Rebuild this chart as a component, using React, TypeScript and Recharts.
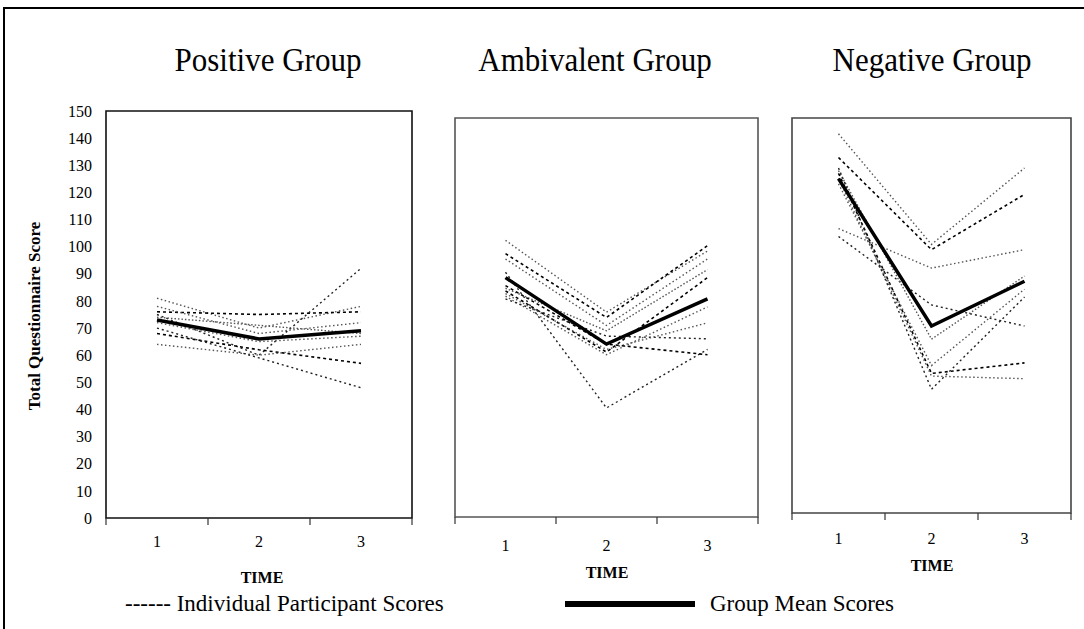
import { LineChart, Line, XAxis, YAxis, ReferenceArea } from "recharts";

const times = [1, 2, 3];
const yTicks = [0, 10, 20, 30, 40, 50, 60, 70, 80, 90, 100, 110, 120, 130, 140, 150];
const xTicks = [0.5, 1, 1.5, 2, 2.5, 3, 3.5];

const positiveMean = [73, 66, 69];
const positiveScores = [
  [81, 70, 78],
  [76, 75, 76],
  [78, 68, 72],
  [75, 60, 92],
  [74, 71, 68],
  [68, 62, 57],
  [64, 60, 64],
  [70, 59, 48],
  [72, 65, 67],
];

const ambivalentMean = [90, 65, 82];
const ambivalentScores = [
  [104, 77, 100],
  [99, 75, 102],
  [97, 72, 97],
  [92, 41, 63],
  [86, 70, 93],
  [85, 62, 90],
  [83, 61, 79],
  [82, 68, 67],
  [84, 63, 73],
  [87, 65, 61],
];

const negativeMean = [127, 71, 88];
const negativeScores = [
  [144, 102, 131],
  [135, 100, 121],
  [108, 93, 100],
  [105, 79, 71],
  [130, 66, 90],
  [129, 53, 57],
  [127, 52, 51],
  [131, 47, 82],
  [125, 56, 85],
];

const FONT = "'Liberation Serif', serif";
// alternate fine grey dots with heavier black dashes, like the scanned figure
const DASHES = ["1.5 2.5", "3 3", "1.5 2.5", "2 3", "1.5 2", "3 3", "1.5 2.5", "2 3", "1.5 2.5", "3 3"];
const STROKES = ["#555", "#000", "#555", "#222", "#555", "#000", "#555", "#222", "#555", "#000"];
const WIDTHS = [1.4, 1.6, 1.4, 1.4, 1.4, 1.6, 1.4, 1.4, 1.4, 1.6];

const buildRows = (mean: number[], scores: number[][]) =>
  times.map((t, i) => {
    const row: Record<string, number> = { time: t, mean: mean[i] };
    scores.forEach((s, j) => {
      row[`p${j}`] = s[i];
    });
    return row;
  });

const makeTick = (labelDy: number) => (props: any) => {
  const { x, y, payload } = props;
  const v = payload.value;
  if (Number.isInteger(v)) {
    return (
      <text x={x} y={y + labelDy} textAnchor="middle" dominantBaseline="central"
        fontSize={16} fontFamily={FONT} fill="#000">
        {v}
      </text>
    );
  }
  return <line x1={x} x2={x} y1={y} y2={y + 7} stroke="#333" strokeWidth={1.2} />;
};

type PanelProps = {
  mean: number[];
  scores: number[][];
  plotLeft: number;
  plotRight: number;
  plotTop: number;
  plotBottom: number;
  labelDy: number;
  frame: string;
  showY?: boolean;
};

const Panel = ({ mean, scores, plotLeft, plotRight, plotTop, plotBottom, labelDy, frame, showY }: PanelProps) => {
  const yw = showY ? 60 : 0;
  const ml = 5;
  const mr = 5;
  const width = yw + ml + (plotRight - plotLeft) + mr;
  const height = plotBottom + 40;
  const rows = buildRows(mean, scores);
  return (
    <div style={{ position: "absolute", left: plotLeft - yw - ml, top: 0 }}>
      <LineChart width={width} height={height} data={rows}
        margin={{ top: plotTop, left: ml, right: mr, bottom: 0 }}>
        <XAxis dataKey="time" type="number" domain={[0.5, 3.5]} ticks={xTicks} interval={0}
          axisLine={false} tickLine={false} tickSize={0} tickMargin={0} height={40}
          tick={makeTick(labelDy)} />
        <YAxis type="number" domain={[0, 150]} ticks={yTicks} interval={0} hide={!showY}
          width={yw} axisLine={false} tickLine={false} tickSize={0} tickMargin={14}
          tick={{ fontSize: 16, fontFamily: FONT, fill: "#000" }} />
        <ReferenceArea x1={0.5} x2={3.5} y1={0} y2={150} fill="none" fillOpacity={0}
          stroke={frame} strokeWidth={1.6} ifOverflow="visible" />
        {scores.map((_, j) => (
          <Line key={j} dataKey={`p${j}`} stroke={STROKES[j % STROKES.length]}
            strokeWidth={WIDTHS[j % WIDTHS.length]} strokeDasharray={DASHES[j % DASHES.length]}
            dot={false} activeDot={false} isAnimationActive={false} />
        ))}
        <Line dataKey="mean" stroke="#000" strokeWidth={3.5} dot={false} activeDot={false}
          isAnimationActive={false} />
      </LineChart>
    </div>
  );
};

const titleStyle = (left: number): any => ({
  position: "absolute", left, top: 44, width: 300, textAlign: "center", fontSize: 31,
  lineHeight: 1, fontFamily: FONT, transform: "scaleY(1.12)",
});

const timeStyle = (left: number, top: number): any => ({
  position: "absolute", left, top, width: 100, textAlign: "center", fontSize: 16,
  fontWeight: "bold", lineHeight: 1, fontFamily: FONT,
});

const legendStyle = (left: number): any => ({
  position: "absolute", left, top: 592, fontSize: 23, lineHeight: 1, fontFamily: FONT,
  whiteSpace: "nowrap",
});

export default function App() {
  return (
    <div style={{ position: "absolute", left: 0, top: 0, width: 1084, height: 629, background: "#fff", overflow: "hidden" }}>
      <div style={{ position: "absolute", left: 3, top: 7, width: 1090, height: 640,
        borderTop: "2px solid #000", borderLeft: "2px solid #000" }} />
      <div style={titleStyle(118)}>Positive Group</div>
      <div style={titleStyle(445)}>Ambivalent Group</div>
      <div style={titleStyle(782)}>Negative Group</div>

      <Panel mean={positiveMean} scores={positiveScores} plotLeft={106} plotRight={412}
        plotTop={111} plotBottom={518} labelDy={23} frame="#111" showY />
      <Panel mean={ambivalentMean} scores={ambivalentScores} plotLeft={455} plotRight={758}
        plotTop={118} plotBottom={517} labelDy={28} frame="#555" />
      <Panel mean={negativeMean} scores={negativeScores} plotLeft={792} plotRight={1071}
        plotTop={118} plotBottom={513} labelDy={25} frame="#444" />

      <div style={{ position: "absolute", left: 34, top: 316, transform: "translate(-50%, -50%) rotate(-90deg)",
        fontSize: 17, fontWeight: "bold", fontFamily: FONT, whiteSpace: "nowrap", lineHeight: 1 }}>
        Total Questionnaire Score
      </div>

      <div style={timeStyle(212, 570)}>TIME</div>
      <div style={timeStyle(557, 565)}>TIME</div>
      <div style={timeStyle(882, 558)}>TIME</div>

      <div style={legendStyle(125)}>------ Individual Participant Scores</div>
      <div style={{ position: "absolute", left: 565, top: 601, width: 130, height: 6, background: "#000" }} />
      <div style={legendStyle(710)}>Group Mean Scores</div>
    </div>
  );
}
